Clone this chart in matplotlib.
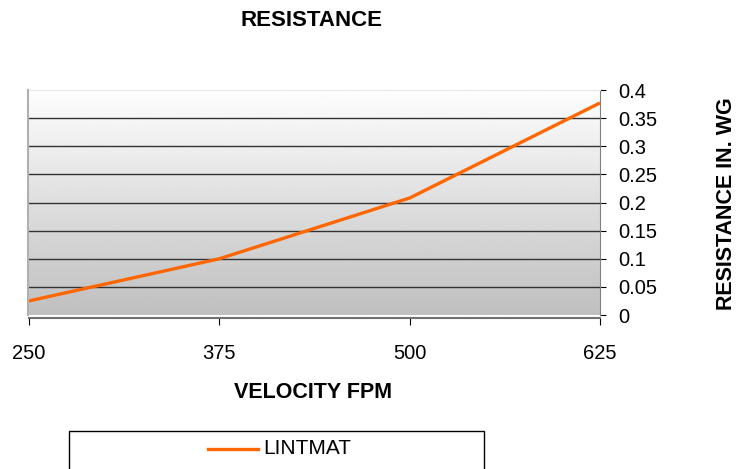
import matplotlib.pyplot as plt
import numpy as np
from matplotlib.patches import Rectangle
from matplotlib.lines import Line2D

plt.rcParams['font.family'] = ['Liberation Sans', 'DejaVu Sans']

velocity = [250, 375, 500, 625]
lintmat = [0.025, 0.1, 0.208, 0.377]
yticks = [0, 0.05, 0.1, 0.15, 0.2, 0.25, 0.3, 0.35, 0.4]
ytick_labels = ['0', '0.05', '0.1', '0.15', '0.2', '0.25', '0.3', '0.35', '0.4']

fig = plt.figure(figsize=(7.37, 4.69), dpi=100)
W, H = 737, 469
ax = fig.add_axes([29 / W, 1 - 315 / H, (600 - 29) / W, (315 - 90) / H])

# grey gradient background, light at top
grad = np.linspace(0.75, 0.995, 256).reshape(-1, 1)
ax.imshow(grad, extent=[0, 1, 0, 1], transform=ax.transAxes, cmap='gray',
          vmin=0, vmax=1, aspect='auto', origin='lower', zorder=0)

for y in yticks[1:-1]:
    ax.axhline(y, color='#333333', linewidth=1.0, zorder=1)

ax.plot(velocity, lintmat, color='#FF6600', linewidth=2.4, zorder=3,
        solid_capstyle='butt')

ax.set_xlim(250, 625)
ax.set_ylim(0, 0.4)
ax.yaxis.tick_right()
ax.set_xticks(velocity)
ax.set_xticklabels([str(v) for v in velocity])
ax.set_yticks(yticks)
ax.set_yticklabels(ytick_labels)
ax.tick_params(axis='y', direction='out', length=4, pad=9, colors='black',
               labelsize=14.5)
ax.tick_params(axis='x', direction='out', length=5, pad=14, colors='black',
               labelsize=14.5)

ax.spines['top'].set_color('#e8e8e8')
ax.spines['right'].set_color('#808080')
ax.spines['left'].set_color('#b0b0b0')
ax.spines['left'].set_linewidth(1.5)
ax.spines['left'].set_position(('outward', 1))
ax.spines['bottom'].set_color('#707070')
ax.spines['bottom'].set_linewidth(1.5)
ax.spines['bottom'].set_position(('outward', 2))

fig.text(312 / W, 1 - 20 / H, 'RESISTANCE', ha='center', va='center',
         fontsize=16, fontweight='bold')
fig.text(313 / W, 1 - 392 / H, 'VELOCITY FPM', ha='center', va='center',
         fontsize=15.5, fontweight='bold')
fig.text(727 / W, 1 - 204 / H, 'RESISTANCE IN. WG', ha='center', va='center',
         rotation=90, fontsize=15.5, fontweight='bold')

# legend box at bottom
fig.patches.append(Rectangle((69 / W, -0.05), (484 - 69) / W, 0.05 + 1 - 431 / H,
                             transform=fig.transFigure, facecolor='white',
                             edgecolor='black', linewidth=1.0))
fig.lines.append(Line2D([208 / W, 258 / W], [1 - 449 / H, 1 - 449 / H],
                        transform=fig.transFigure, color='#FF6600', linewidth=2.4))
fig.text(263 / W, 1 - 448 / H, 'LINTMAT', ha='left', va='center', fontsize=15)

fig.savefig('out.png', dpi=100)
